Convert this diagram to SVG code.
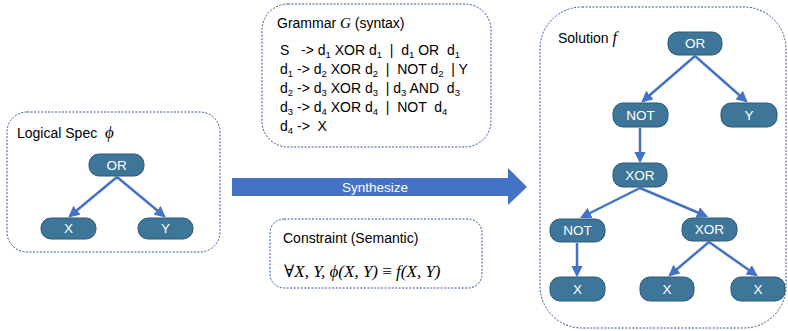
<svg xmlns="http://www.w3.org/2000/svg" width="788" height="331" viewBox="0 0 788 331">
<style>
text{white-space:pre}
.box{fill:#fff;stroke:#2F5597;stroke-width:1;stroke-dasharray:2 1.5}
.node rect{fill:#3E7699;stroke:#2C5877;stroke-width:1}
.node text{fill:#fff;font-family:"Liberation Sans",Arial,sans-serif;font-size:13.5px;text-anchor:middle}
.t{font-family:"Liberation Sans",Arial,sans-serif;font-size:14px;fill:#000}
.m{font-family:"Liberation Serif","DejaVu Serif",serif;font-style:italic}
.sub{font-size:9.5px}
.conn line{stroke:#4472C4;stroke-width:2.5;marker-end:url(#ah)}
</style>
<defs>
<marker id="ah" viewBox="0 0 10 10" refX="8" refY="5" markerWidth="4.5" markerHeight="4.5" orient="auto" markerUnits="strokeWidth">
<path d="M0,0 L10,5 L0,10 Z" fill="#4472C4"/>
</marker>
</defs>
<rect width="788" height="331" fill="#fff"/>

<g id="grammar">
<rect class="box" x="262" y="4" width="229" height="143" rx="26"/>
<text class="t" x="277" y="28">Grammar <tspan class="m" font-size="15">G</tspan> (syntax)</text>
<text class="t" x="280" y="55">S   -&gt; d<tspan class="sub" dy="3">1</tspan><tspan dy="-3"> XOR d</tspan><tspan class="sub" dy="3">1</tspan><tspan dy="-3">  |  d</tspan><tspan class="sub" dy="3">1</tspan><tspan dy="-3"> OR  d</tspan><tspan class="sub" dy="3">1</tspan></text>
<text class="t" x="280" y="74">d<tspan class="sub" dy="3">1</tspan><tspan dy="-3"> -&gt; d</tspan><tspan class="sub" dy="3">2</tspan><tspan dy="-3"> XOR d</tspan><tspan class="sub" dy="3">2</tspan><tspan dy="-3">  |  NOT d</tspan><tspan class="sub" dy="3">2</tspan><tspan dy="-3">  | Y</tspan></text>
<text class="t" x="280" y="93">d<tspan class="sub" dy="3">2</tspan><tspan dy="-3"> -&gt; d</tspan><tspan class="sub" dy="3">3</tspan><tspan dy="-3"> XOR d</tspan><tspan class="sub" dy="3">3</tspan><tspan dy="-3">  | d</tspan><tspan class="sub" dy="3">3</tspan><tspan dy="-3"> AND  d</tspan><tspan class="sub" dy="3">3</tspan></text>
<text class="t" x="280" y="112">d<tspan class="sub" dy="3">3</tspan><tspan dy="-3"> -&gt; d</tspan><tspan class="sub" dy="3">4</tspan><tspan dy="-3"> XOR d</tspan><tspan class="sub" dy="3">4</tspan><tspan dy="-3">  |  NOT  d</tspan><tspan class="sub" dy="3">4</tspan></text>
<text class="t" x="280" y="131">d<tspan class="sub" dy="3">4</tspan><tspan dy="-3"> -&gt;  X</tspan></text>
</g>

<g id="spec">
<rect class="box" x="7" y="112" width="213" height="140" rx="20"/>
<text class="t" x="17" y="138">Logical Spec  <tspan class="m" font-size="17">ϕ</tspan></text>
</g>

<g id="constraint">
<rect class="box" x="270" y="219" width="212" height="69" rx="14"/>
<text class="t" x="283" y="243">Constraint (Semantic)</text>
<text class="m" x="284" y="277" font-size="17"><tspan font-style="normal">∀</tspan>X, Y, ϕ(X, Y) <tspan font-style="normal">≡</tspan> f(X, Y)</text>
</g>

<g id="solution">
<rect class="box" x="540" y="7" width="246" height="321" rx="42"/>
<text class="t" x="558" y="43">Solution <tspan class="m" font-size="16">f</tspan></text>
</g>

<g id="synthesize">
<path d="M232,178 L508,178 L508,168 L527,187 L508,205 L508,196 L232,196 Z" fill="#4472C4"/>
<text x="375" y="192" fill="#fff" font-family="Liberation Sans,Arial,sans-serif" font-size="13.5" text-anchor="middle">Synthesize</text>
</g>

<g class="conn" id="connectors">
<line x1="117" y1="177" x2="70" y2="216"/>
<line x1="117" y1="177" x2="164" y2="216"/>
<line x1="695" y1="56" x2="643" y2="101"/>
<line x1="695" y1="56" x2="746" y2="101"/>
<line x1="640" y1="128" x2="640" y2="161"/>
<line x1="640" y1="188" x2="582" y2="217"/>
<line x1="640" y1="188" x2="706" y2="216"/>
<line x1="577" y1="243" x2="577" y2="275"/>
<line x1="709" y1="242" x2="670" y2="275"/>
<line x1="709" y1="242" x2="756" y2="275"/>
</g>

<g class="node" id="spec-or"><rect x="89" y="154" width="55" height="22" rx="10"/><text x="116.5" y="170">OR</text></g>
<g class="node" id="spec-x"><rect x="41" y="218" width="55" height="21" rx="10"/><text x="68.5" y="233">X</text></g>
<g class="node" id="spec-y"><rect x="138" y="218" width="55" height="21" rx="10"/><text x="165.5" y="233">Y</text></g>

<g class="node" id="sol-or"><rect x="668" y="32" width="54" height="23" rx="10"/><text x="695" y="48">OR</text></g>
<g class="node" id="sol-not1"><rect x="613" y="103" width="55" height="24" rx="10"/><text x="640.5" y="120">NOT</text></g>
<g class="node" id="sol-y"><rect x="721" y="103" width="56" height="24" rx="10"/><text x="749" y="120">Y</text></g>
<g class="node" id="sol-xor1"><rect x="613" y="163" width="54" height="24" rx="10"/><text x="640" y="180">XOR</text></g>
<g class="node" id="sol-not2"><rect x="550" y="219" width="55" height="23" rx="10"/><text x="577.5" y="235">NOT</text></g>
<g class="node" id="sol-xor2"><rect x="682" y="218" width="55" height="23" rx="10"/><text x="709.5" y="234">XOR</text></g>
<g class="node" id="sol-x1"><rect x="550" y="277" width="55" height="24" rx="10"/><text x="577.5" y="294">X</text></g>
<g class="node" id="sol-x2"><rect x="640" y="277" width="54" height="24" rx="10"/><text x="667" y="294">X</text></g>
<g class="node" id="sol-x3"><rect x="731" y="277" width="54" height="24" rx="10"/><text x="758" y="294">X</text></g>
</svg>
